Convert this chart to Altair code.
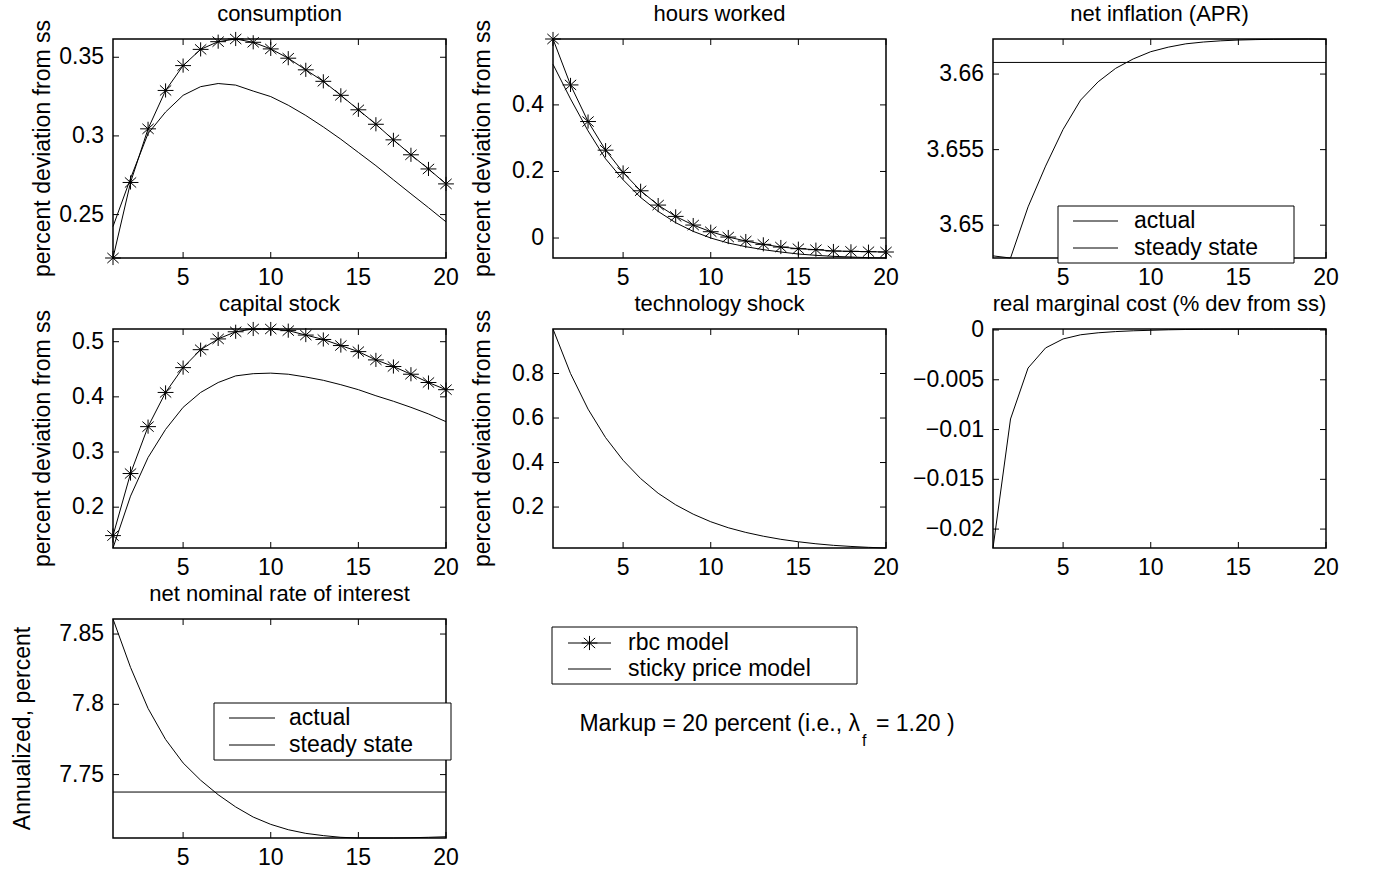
import altair as alt
import pandas as pd

FONT = "Liberation Sans"
FS = 23       # tick labels and legend text
FS_T = 22     # panel titles
FS_Y = 23     # rotated y-axis titles
W, H = 333, 219

periods = list(range(1, 21))

cons_rbc = [0.2224, 0.2704, 0.3045, 0.3289, 0.3447, 0.3550, 0.3599, 0.3616, 0.3595, 0.3553,
            0.3494, 0.3420, 0.3347, 0.3258, 0.3166, 0.3074, 0.2975, 0.2880, 0.2790, 0.2695]
cons_sticky = [0.2424, 0.2730, 0.3015, 0.3152, 0.3258, 0.3313, 0.3333, 0.3323, 0.3285, 0.3250,
               0.3195, 0.3130, 0.3057, 0.2979, 0.2895, 0.2811, 0.2721, 0.2632, 0.2544, 0.2454]

hours_rbc = [0.598, 0.460, 0.350, 0.264, 0.197, 0.142, 0.099, 0.065, 0.039, 0.019,
             0.003, -0.009, -0.019, -0.027, -0.032, -0.035, -0.039, -0.040, -0.041, -0.042]
hours_sticky = [0.522, 0.418, 0.322, 0.238, 0.175, 0.122, 0.080, 0.046, 0.020, 0.000,
                -0.015, -0.026, -0.035, -0.042, -0.048, -0.052, -0.055, -0.057, -0.059, -0.060]

infl_actual = [3.64797, 3.64783, 3.65121, 3.65391, 3.65634, 3.65828, 3.65949, 3.66038, 3.66100, 3.66148,
               3.66178, 3.66200, 3.66212, 3.66220, 3.66225, 3.66228, 3.66230, 3.66231, 3.66232, 3.66230]
infl_ss = 3.66077

cap_rbc = [0.1485, 0.261, 0.346, 0.408, 0.453, 0.4855, 0.505, 0.518, 0.523, 0.523,
           0.520, 0.512, 0.504, 0.493, 0.482, 0.467, 0.455, 0.441, 0.426, 0.413]
cap_sticky = [0.126, 0.220, 0.290, 0.341, 0.381, 0.408, 0.426, 0.438, 0.442, 0.443,
              0.441, 0.436, 0.430, 0.422, 0.413, 0.402, 0.392, 0.381, 0.369, 0.355]

tech = [1.0, 0.80, 0.64, 0.512, 0.41, 0.328, 0.262, 0.21, 0.168, 0.134,
        0.107, 0.086, 0.069, 0.055, 0.044, 0.035, 0.028, 0.023, 0.019, 0.016]

rmc = [-0.0219, -0.00894, -0.00382, -0.0018, -0.0009, -0.00048, -0.00028, -0.00016, -0.00008, -0.00003,
       0.00002, 0.00005, 0.00007, 0.00008, 0.00009, 0.0001, 0.0001, 0.0001, 0.0001, 0.0001]

rate_actual = [7.8607, 7.8263, 7.7971, 7.7750, 7.7583, 7.7460, 7.7357, 7.7270, 7.7198, 7.7146,
               7.7108, 7.7082, 7.7066, 7.7054, 7.7049, 7.7049, 7.7049, 7.7051, 7.7054, 7.7058]
rate_ss = 7.7376

x_ticks = [5, 10, 15, 20]
x_labels = ["5", "10", "15", "20"]

cons_ticks, cons_labels = [0.25, 0.3, 0.35], ["0.25", "0.3", "0.35"]
hours_ticks, hours_labels = [0, 0.2, 0.4], ["0", "0.2", "0.4"]
infl_ticks, infl_labels = [3.65, 3.655, 3.66], ["3.65", "3.655", "3.66"]
cap_ticks, cap_labels = [0.2, 0.3, 0.4, 0.5], ["0.2", "0.3", "0.4", "0.5"]
tech_ticks, tech_labels = [0.2, 0.4, 0.6, 0.8], ["0.2", "0.4", "0.6", "0.8"]
rmc_ticks = [-0.02, -0.015, -0.01, -0.005, 0]
rmc_labels = ["\u22120.02", "\u22120.015", "\u22120.01", "\u22120.005", "0"]
rate_ticks, rate_labels = [7.75, 7.8, 7.85], ["7.75", "7.8", "7.85"]

ASTER = "M-1.12,0L1.12,0M0,-1L0,1M-0.8,-0.72L0.8,0.72M-0.8,0.72L0.8,-0.72"
one = pd.DataFrame({"d": [0]})


def xscale():
    return alt.Scale(domain=[1, 20], nice=False, zero=False)


def text_at(txt, x, y, size=FS, align="left", baseline="middle", angle=0):
    return alt.Chart(one).mark_text(text=txt, font=FONT, fontSize=size, color="black",
                                    align=align, baseline=baseline, angle=angle).encode(
        x=alt.value(x), y=alt.value(y))


def rule_at(x1, x2, y):
    return alt.Chart(one).mark_rule(color="black", strokeWidth=1).encode(
        x=alt.value(x1), x2=alt.value(x2), y=alt.value(y))


def box_at(x1, x2, y1, y2):
    return alt.Chart(one).mark_rect(fill="white", stroke="black", strokeWidth=1).encode(
        x=alt.value(x1), x2=alt.value(x2), y=alt.value(y1), y2=alt.value(y2))


def inner_legend(bx1, bx2, by1, by2, lx1, lx2, ys, tx, labels):
    out = [box_at(bx1, bx2, by1, by2)]
    for yy, lab in zip(ys, labels):
        out.append(rule_at(lx1, lx2, yy))
        out.append(text_at(lab, tx, yy))
    return out


def panel(title, series, yticks, ylabels, ytitle=None, ytitle_x=-63.5, ss=None, extra=None):
    vals = [v for s in series for v in s["v"]] + ([ss] if ss is not None else [])
    ysc = alt.Scale(domain=[min(vals), max(vals)], nice=False, zero=False)
    X = alt.X("t:Q", scale=xscale(), axis=None)
    Y = alt.Y("v:Q", scale=ysc, axis=None)
    layers = []
    for s in series:
        df = pd.DataFrame({"t": periods, "v": s["v"]})
        base = alt.Chart(df)
        layers.append(base.mark_line(color="black", strokeWidth=1).encode(x=X, y=Y))
        if s.get("marker"):
            layers.append(base.mark_point(shape=ASTER, size=200, filled=False, color="black",
                                          strokeWidth=1, opacity=1).encode(x=X, y=Y))
    if ss is not None:
        layers.append(alt.Chart(pd.DataFrame({"v": [ss]})).mark_rule(color="black", strokeWidth=1)
                      .encode(y=Y))
    ytk = pd.DataFrame({"v": yticks, "lab": ylabels})
    xtk = pd.DataFrame({"t": x_ticks, "lab": x_labels})
    # inward tick marks on all four sides
    for a, b in [(0, 6), (W - 6, W)]:
        layers.append(alt.Chart(ytk).mark_rule(color="black", strokeWidth=1).encode(
            y=Y, x=alt.value(a), x2=alt.value(b)))
    for a, b in [(H - 6, H), (0, 6)]:
        layers.append(alt.Chart(xtk).mark_rule(color="black", strokeWidth=1).encode(
            x=X, y=alt.value(a), y2=alt.value(b)))
    # tick labels
    layers.append(alt.Chart(ytk).mark_text(font=FONT, fontSize=FS, color="black",
                                           align="right", baseline="middle").encode(
        y=Y, x=alt.value(-9), text="lab:N"))
    layers.append(alt.Chart(xtk).mark_text(font=FONT, fontSize=FS, color="black",
                                           align="center", baseline="alphabetic").encode(
        x=X, y=alt.value(H + 27), text="lab:N"))
    if ytitle:
        layers.append(text_at(ytitle, ytitle_x, H / 2, size=FS_Y, align="center",
                              baseline="alphabetic", angle=270))
    if extra:
        layers.extend(extra)
    layers.append(text_at(title, W / 2, -18, size=FS_T, align="center", baseline="alphabetic"))
    return alt.layer(*layers).properties(width=W, height=H)


YT = "percent deviation from ss"

p1 = panel("consumption",
           [{"v": cons_rbc, "marker": True}, {"v": cons_sticky}],
           cons_ticks, cons_labels, YT)
p2 = panel("hours worked",
           [{"v": hours_rbc, "marker": True}, {"v": hours_sticky}],
           hours_ticks, hours_labels, YT)
p3 = panel("net inflation (APR)",
           [{"v": infl_actual}], infl_ticks, infl_labels, None, ss=infl_ss,
           extra=inner_legend(65, 301, 167, 224, 80, 125, [182, 209], 141,
                              ["actual", "steady state"]))
p4 = panel("capital stock",
           [{"v": cap_rbc, "marker": True}, {"v": cap_sticky}],
           cap_ticks, cap_labels, YT)
p5 = panel("technology shock", [{"v": tech}], tech_ticks, tech_labels, YT)
p6 = panel("real marginal cost (% dev from ss)", [{"v": rmc}],
           rmc_ticks, rmc_labels, None)
p7 = panel("net nominal rate of interest", [{"v": rate_actual}], rate_ticks, rate_labels,
           "Annualized, percent", ytitle_x=-83.5, ss=rate_ss,
           extra=inner_legend(101, 338, 84, 141, 116, 162, [99, 126], 176,
                              ["actual", "steady state"]))

leg_layers = [
    box_at(-1, 304, 8, 65),
    rule_at(15, 58, 24),
    alt.Chart(one).mark_point(shape=ASTER, size=200, filled=False, color="black",
                              strokeWidth=1, opacity=1).encode(x=alt.value(36.5), y=alt.value(24)),
    text_at("rbc model", 75, 24),
    rule_at(15, 58, 50),
    text_at("sticky price model", 75, 50),
    text_at("Markup = 20 percent (i.e., \u03bb", 307, 112, align="right", baseline="alphabetic"),
    text_at("f", 309, 127, size=16, baseline="alphabetic"),
    text_at("= 1.20 )", 323, 112, baseline="alphabetic"),
]
p8 = alt.layer(*leg_layers).properties(width=W, height=H,
                                       view=alt.ViewBackground(stroke="transparent"))

chart = alt.concat(p1, p2, p3, p4, p5, p6, p7, p8, columns=3,
                   spacing={"row": 71, "column": 107}, bounds="flush").properties(
    padding={"left": 10, "top": 2, "right": 5, "bottom": 5},
    background="white",
).configure_view(stroke="black", strokeWidth=1.5)

chart.save("out.html", embed_options={"renderer": "svg", "actions": False})
